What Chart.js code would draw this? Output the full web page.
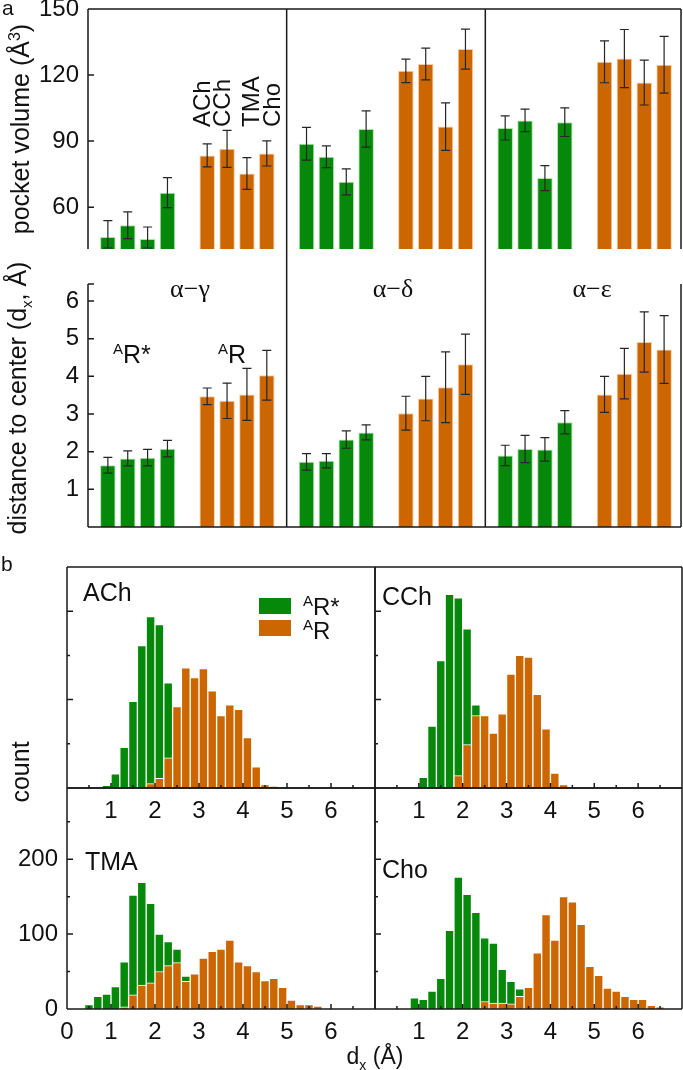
<!DOCTYPE html>
<html>
<head>
<meta charset="utf-8">
<script src="https://cdn.jsdelivr.net/npm/chart.js@4.4.1/dist/chart.umd.min.js"></script>
<style>
  html, body { margin: 0; padding: 0; background: #fff; }
  #fig { position: relative; width: 683px; height: 1070px; overflow: hidden;
         font-family: 'Liberation Sans', Arial, sans-serif; color: #111; }
  #fig canvas { position: absolute; left: 0; }
  .t { position: absolute; white-space: nowrap; line-height: 1; }
  .rot { transform: translate(-50%, -50%) rotate(-90deg); font-size: 25px; }
  .lig { transform-origin: 0 0; transform: rotate(-90deg); font-size: 24px; }
  .pair { font-family: 'Liberation Serif', 'Times New Roman', serif; font-size: 26px; transform: translateX(-50%); }
  .st { font-size: 25px; }
  .sup { font-size: 15px; position: relative; top: -9px; }
  .lg { font-size: 24px; }
  .sw { position: absolute; width: 32px; height: 16px; }
  .hl { font-size: 25px; }
</style>
</head>
<body>
<div id="fig">
  <canvas id="volChart" width="683" height="262" style="top:0px"></canvas>
  <canvas id="distChart" width="683" height="288" style="top:262px"></canvas>
  <canvas id="achChart" width="683" height="300" style="top:540px"></canvas>
  <canvas id="cchChart" width="683" height="300" style="top:540px"></canvas>
  <canvas id="tmaChart" width="683" height="310" style="top:760px"></canvas>
  <canvas id="choChart" width="683" height="310" style="top:760px"></canvas>

  <div class="t" style="left:2px; top:-3px; font-size:21px;">a</div>
  <div class="t" style="left:1px; top:553px; font-size:21px;">b</div>

  <div class="t rot" style="left:20px; top:129px;">pocket volume (Å<sup style="font-size:16px">3</sup>)</div>
  <div class="t rot" style="left:19px; top:398px;">distance to center (d<sub style="font-size:15px">x</sub>, Å)</div>
  <div class="t rot" style="left:20px; top:772px;">count</div>
  <div class="t" style="left:375px; top:1045px; font-size:23px; transform: translateX(-50%);">d<sub style="font-size:14px">x</sub> (Å)</div>

  <div class="t lig" style="left:190px; top:127px;">ACh</div>
  <div class="t lig" style="left:210px; top:127px;">CCh</div>
  <div class="t lig" style="left:239px; top:127px;">TMA</div>
  <div class="t lig" style="left:260px; top:127px;">Cho</div>

  <div class="t pair" style="left:190px; top:276px;">α−γ</div>
  <div class="t pair" style="left:393px; top:276px;">α−δ</div>
  <div class="t pair" style="left:592px; top:276px;">α−ε</div>

  <div class="t st" style="left:113px; top:342px;"><span class="sup">A</span>R*</div>
  <div class="t st" style="left:218px; top:342px;"><span class="sup">A</span>R</div>

  <div class="t hl" style="left:83px; top:580px;">ACh</div>
  <div class="t hl" style="left:382px; top:584px;">CCh</div>
  <div class="t hl" style="left:85px; top:849px;">TMA</div>
  <div class="t hl" style="left:382px; top:857px;">Cho</div>

  <div class="sw" style="left:259px; top:598px; background:#06880a;"></div>
  <div class="sw" style="left:259px; top:620px; background:#cc6600;"></div>
  <div class="t lg" style="left:303px; top:595px;"><span class="sup">A</span>R*</div>
  <div class="t lg" style="left:303px; top:619px;"><span class="sup">A</span>R</div>
</div>

<script>
const GREEN = '#06880a';
const ORANGE = '#cc6600';

// panel a: one row per subunit pair (α−γ, α−δ, α−ε), columns follow ligands
const ligands = ['ACh', 'CCh', 'TMA', 'Cho'];
const pairs = ['α−γ', 'α−δ', 'α−ε'];

const volumeActive = [
    [46.4, 51.8, 45.5, 66.6],
    [88.8, 82.9, 71.5, 95.5],
    [96.0, 99.4, 73.2, 98.6]
];
const volumeActiveSd = [
    [7.5, 6.1, 5.5, 6.8],
    [7.4, 4.9, 5.9, 8.2],
    [5.5, 5.1, 5.7, 6.5]
];
const volumeResting = [
    [83.5, 86.5, 75.3, 84.4],
    [121.9, 125.0, 96.6, 131.8],
    [126.0, 127.5, 116.6, 124.7]
];
const volumeRestingSd = [
    [5.2, 8.4, 7.2, 5.7],
    [5.3, 7.2, 10.8, 9.1],
    [9.5, 13.2, 10.2, 12.9]
];

const distActive = [
    [1.64, 1.82, 1.84, 2.08],
    [1.73, 1.76, 2.32, 2.51],
    [1.90, 2.07, 2.06, 2.78]
];
const distActiveSd = [
    [0.21, 0.20, 0.22, 0.22],
    [0.22, 0.19, 0.23, 0.20],
    [0.27, 0.36, 0.31, 0.31]
];
const distResting = [
    [3.47, 3.35, 3.52, 4.03],
    [3.02, 3.41, 3.71, 4.32],
    [3.52, 4.07, 4.91, 4.71]
];
const distRestingSd = [
    [0.22, 0.47, 0.69, 0.66],
    [0.45, 0.59, 0.94, 0.80],
    [0.48, 0.67, 0.80, 0.90]
];

const volumeTicks = [60, 90, 120, 150];
const distTicks = [1, 2, 3, 4, 5, 6];

// panel b: histogram bin centres (Å) and counts per bin
const histBins = [0.5, 0.7, 0.9, 1.1, 1.3, 1.5, 1.7, 1.9, 2.1, 2.3, 2.5, 2.7, 2.9, 3.1, 3.3, 3.5,
                  3.7, 3.9, 4.1, 4.3, 4.5, 4.7, 4.9, 5.1, 5.3, 5.5, 5.7, 5.9, 6.1, 6.3, 6.5];

const achActive  = [0, 0, 3, 16, 46, 98, 161, 194, 185, 119, 0, 0, 0, 0, 0, 0, 0, 0, 0, 0, 0, 0, 0, 0, 0, 0, 0, 0, 0, 0, 0];
const achResting = [0, 0, 0, 0, 0, 0, 0, 5, 11, 34, 92, 136, 125, 135, 110, 82, 94, 89, 57, 24, 4, 2, 0, 0, 0, 0, 0, 0, 0, 0, 0];
const cchActive  = [0, 0, 0, 12, 70, 144, 219, 215, 180, 94, 0, 0, 0, 0, 0, 0, 0, 0, 0, 0, 0, 0, 0, 0, 0, 0, 0, 0, 0, 0, 0];
const cchResting = [0, 0, 0, 0, 0, 0, 0, 14, 49, 82, 82, 62, 84, 129, 150, 148, 106, 67, 17, 4, 0, 0, 0, 0, 0, 0, 0, 0, 0, 0, 0];
const tmaActive  = [6, 17, 20, 30, 63, 152, 169, 141, 100, 90, 80, 44, 0, 0, 0, 0, 0, 0, 0, 0, 0, 0, 0, 0, 0, 0, 0, 0, 0, 0, 0];
const tmaResting = [0, 0, 0, 0, 3, 19, 32, 35, 50, 58, 62, 37, 47, 68, 77, 80, 92, 63, 58, 50, 38, 41, 29, 12, 6, 6, 4, 0, 0, 0, 0];
const choActive  = [0, 0, 15, 13, 24, 41, 105, 176, 153, 129, 95, 88, 53, 37, 27, 0, 0, 0, 0, 0, 0, 0, 0, 0, 0, 0, 0, 0, 0, 0, 0];
const choResting = [0, 0, 0, 0, 0, 0, 0, 0, 0, 0, 10, 8, 8, 7, 17, 29, 75, 126, 92, 150, 143, 113, 57, 45, 28, 24, 17, 13, 13, 5, 3];

const countTicks = [0, 100, 200];
const dxTicks = [0, 1, 2, 3, 4, 5, 6];

Chart.defaults.font.family = "'Liberation Sans', Arial, sans-serif";
Chart.defaults.color = '#111';
Chart.defaults.animation = false;
Chart.defaults.plugins.legend.display = false;
Chart.defaults.plugins.tooltip.enabled = false;

// error bars, frame lines and inward tick marks
const figPlugin = {
    id: 'fig',
    afterDatasetsDraw(chart) {
        const { ctx, chartArea: area } = chart;
        const y = chart.scales.y;
        ctx.save();
        ctx.strokeStyle = '#262626';
        ctx.lineWidth = 1.2;
        chart.data.datasets.forEach((ds, i) => {
            if (!ds.errors) return;
            chart.getDatasetMeta(i).data.forEach((bar, j) => {
                const v = ds.data[j].y, e = ds.errors[j];
                const top = y.getPixelForValue(v + e);
                const bot = Math.min(y.getPixelForValue(v - e), area.bottom - 1);
                ctx.beginPath();
                ctx.moveTo(bar.x, top); ctx.lineTo(bar.x, bot);
                ctx.moveTo(bar.x - 4.5, top); ctx.lineTo(bar.x + 4.5, top);
                ctx.moveTo(bar.x - 4.5, bot); ctx.lineTo(bar.x + 4.5, bot);
                ctx.stroke();
            });
        });
        ctx.restore();
    },
    afterDraw(chart, args, opts) {
        const { ctx, chartArea: a, scales } = chart;
        const sides = opts.sides || [];
        ctx.save();
        ctx.strokeStyle = '#1a1a1a';
        ctx.lineWidth = 1.5;
        ctx.beginPath();
        if (sides.includes('top')) { ctx.moveTo(a.left, a.top); ctx.lineTo(a.right, a.top); }
        if (sides.includes('bottom')) { ctx.moveTo(a.left, a.bottom); ctx.lineTo(a.right, a.bottom); }
        if (sides.includes('left')) { ctx.moveTo(a.left, a.top); ctx.lineTo(a.left, a.bottom); }
        if (sides.includes('right')) { ctx.moveTo(a.right, a.top); ctx.lineTo(a.right, a.bottom); }
        (opts.separators || []).forEach(v => {
            const x = scales.x.getPixelForValue(v);
            ctx.moveTo(x, opts.sepFrom ?? a.top);
            ctx.lineTo(x, opts.sepTo ?? a.bottom);
        });
        (opts.yMajor || []).forEach(v => {
            const py = scales.y.getPixelForValue(v);
            ctx.moveTo(a.left, py); ctx.lineTo(a.left + 6, py);
        });
        (opts.yMinor || []).forEach(v => {
            const py = scales.y.getPixelForValue(v);
            ctx.moveTo(a.left, py); ctx.lineTo(a.left + 3, py);
        });
        (opts.xMajor || []).forEach(v => {
            const px = scales.x.getPixelForValue(v);
            ctx.moveTo(px, a.bottom); ctx.lineTo(px, a.bottom - 5);
        });
        (opts.xMinor || []).forEach(v => {
            const px = scales.x.getPixelForValue(v);
            ctx.moveTo(px, a.bottom); ctx.lineTo(px, a.bottom - 3);
        });
        ctx.stroke();
        ctx.restore();
    }
};
Chart.register(figPlugin);

// panel p, ligand i sits at x = 10p + first + i (green first = 1, orange first = 6)
function barPoints(rows, first) {
    return rows.flatMap((row, p) => row.map((v, i) => ({ x: p * 10 + first + i, y: v })));
}

function barChart(id, active, activeSd, resting, restingSd, yMin, yMax, yTicks, pad, frame) {
    const bar = { grouped: false, barPercentage: 0.78, categoryPercentage: 1, borderWidth: 1 };
    return new Chart(document.getElementById(id), {
        type: 'bar',
        data: {
            datasets: [
                { ...bar, data: barPoints(active, 1), errors: activeSd.flat(),
                  backgroundColor: GREEN, borderColor: 'rgba(150,220,150,0.8)' },
                { ...bar, data: barPoints(resting, 6), errors: restingSd.flat(),
                  backgroundColor: ORANGE, borderColor: 'rgba(250,190,140,0.8)' }
            ]
        },
        options: {
            responsive: false,
            layout: { padding: pad },
            scales: {
                x: { type: 'linear', min: 0, max: 29.85, offset: false, display: false },
                y: {
                    min: yMin, max: yMax,
                    afterBuildTicks: s => { s.ticks = yTicks.map(v => ({ value: v })); },
                    afterFit: s => { s.width = 88; s.paddingTop = 0; s.paddingBottom = 0; },
                    grid: { display: false, drawTicks: false },
                    border: { display: false },
                    ticks: { padding: 9, font: { size: 24 } }
                }
            },
            plugins: { fig: frame }
        }
    });
}

function histPoints(values) {
    return values.map((v, i) => ({ x: histBins[i], y: v })).filter(p => p.y > 0);
}

function histChart(id, active, resting, yMax, cfg) {
    const bar = { grouped: false, barPercentage: 1, categoryPercentage: 1, borderWidth: 1, borderColor: '#ffffff' };
    return new Chart(document.getElementById(id), {
        type: 'bar',
        data: {
            datasets: [
                { ...bar, data: histPoints(resting), backgroundColor: ORANGE, order: 0 },
                { ...bar, data: histPoints(active), backgroundColor: GREEN, order: 1 }
            ]
        },
        options: {
            responsive: false,
            layout: { padding: { top: cfg.top, right: cfg.right, left: 0, bottom: 0 } },
            scales: {
                x: {
                    type: 'linear', min: 0, max: 7, offset: false,
                    afterBuildTicks: s => { s.ticks = cfg.xLabels.map(v => ({ value: v })); },
                    afterFit: s => { s.height = cfg.axisH; s.paddingLeft = 0; s.paddingRight = 0; },
                    grid: { display: false, drawTicks: false },
                    border: { display: false },
                    ticks: { padding: 9, font: { size: 24 }, maxRotation: 0, autoSkip: false }
                },
                y: {
                    min: 0, max: yMax,
                    afterBuildTicks: s => { s.ticks = countTicks.map(v => ({ value: v })); },
                    afterFit: s => { s.width = cfg.left; s.paddingTop = 0; s.paddingBottom = 0; },
                    grid: { display: false, drawTicks: false },
                    border: { display: false },
                    ticks: { display: cfg.yLabels, padding: 9, font: { size: 24 } }
                }
            },
            plugins: {
                fig: {
                    sides: ['top', 'bottom', 'left', 'right'],
                    yMajor: [100, 200], yMinor: [50, 150, 250],
                    xMajor: [1, 2, 3, 4, 5, 6], xMinor: [0.5, 1.5, 2.5, 3.5, 4.5, 5.5, 6.5]
                }
            }
        }
    });
}

document.addEventListener('DOMContentLoaded', () => {
    barChart('volChart', volumeActive, volumeActiveSd, volumeResting, volumeRestingSd,
        41, 150, volumeTicks, { top: 9, bottom: 13, left: 0, right: 2 },
        { sides: ['top', 'left', 'right'], separators: [10, 20], sepTo: 262, yMajor: [60, 90, 120] });

    barChart('distChart', distActive, distActiveSd, distResting, distRestingSd,
        0, 6.45, distTicks, { top: 22, bottom: 23, left: 0, right: 2 },
        { sides: ['left', 'bottom', 'right'], separators: [10, 20], sepFrom: 0, yMajor: [1, 2, 3, 4, 5, 6, 6.45] });

    histChart('achChart', achActive, achResting, 250,
        { top: 27, right: 308, left: 67, axisH: 52, yLabels: false, xLabels: dxTicks.slice(1) });
    histChart('cchChart', cchActive, cchResting, 250,
        { top: 27, right: 1, left: 375, axisH: 52, yLabels: false, xLabels: dxTicks.slice(1) });
    histChart('tmaChart', tmaActive, tmaResting, 295,
        { top: 28, right: 308, left: 67, axisH: 61, yLabels: true, xLabels: dxTicks });
    histChart('choChart', choActive, choResting, 295,
        { top: 28, right: 1, left: 375, axisH: 61, yLabels: false, xLabels: dxTicks.slice(1) });
});
</script>
</body>
</html>
